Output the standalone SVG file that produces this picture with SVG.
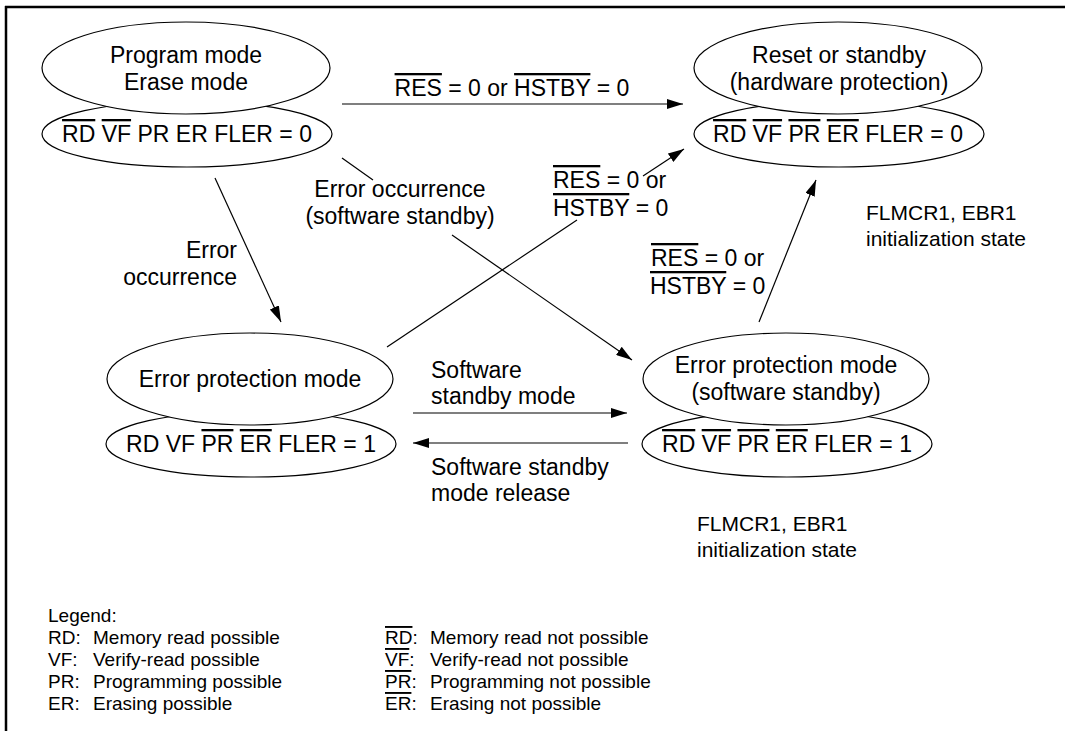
<svg xmlns="http://www.w3.org/2000/svg" width="1065" height="731" viewBox="0 0 1065 731">
<defs>
<style>
text{font-family:"Liberation Sans",Arial,sans-serif;fill:#000}
.n{font-size:23px;text-anchor:middle}
.l{font-size:23px}
.s{font-size:21px}
.g{font-size:19px}
.ol{text-decoration:overline}
.e{fill:#fff;stroke:#000;stroke-width:1.2}
.c{fill:none;stroke:#000;stroke-width:1.2}
</style>
<marker id="ah" markerUnits="userSpaceOnUse" markerWidth="16" markerHeight="10" refX="16" refY="5" orient="auto">
<path d="M0,0 L16,5 L0,10 z" fill="#000"/>
</marker>
</defs>
<rect width="1065" height="731" fill="#fff"/>
<path d="M5,7 H1065 M6,6 V731" stroke="#000" stroke-width="2.5" fill="none"/>

<g id="nodeA">
<ellipse class="e" cx="187" cy="134" rx="145" ry="33"/>
<ellipse class="e" cx="186" cy="68" rx="144" ry="46"/>
<text class="n" x="186" y="63">Program mode</text>
<text class="n" x="186" y="90">Erase mode</text>
<text class="n" x="187" y="142"><tspan class="ol">RD</tspan> <tspan class="ol">VF</tspan> PR ER FLER = 0</text>
</g>

<g id="nodeB">
<ellipse class="e" cx="839" cy="134" rx="145" ry="33"/>
<ellipse class="e" cx="838" cy="68" rx="144" ry="46"/>
<text class="n" x="839" y="63">Reset or standby</text>
<text class="n" x="839" y="90">(hardware protection)</text>
<text class="n" x="838" y="142"><tspan class="ol">RD</tspan> <tspan class="ol">VF</tspan> <tspan class="ol">PR</tspan> <tspan class="ol">ER</tspan> FLER = 0</text>
</g>

<g id="nodeC">
<ellipse class="e" cx="251" cy="444" rx="145" ry="33"/>
<ellipse class="e" cx="250" cy="379" rx="143" ry="46"/>
<text class="n" x="250" y="387">Error protection mode</text>
<text class="n" x="251" y="452">RD VF <tspan class="ol">PR</tspan> <tspan class="ol">ER</tspan> FLER = 1</text>
</g>

<g id="nodeD">
<ellipse class="e" cx="787" cy="444" rx="145" ry="33"/>
<ellipse class="e" cx="786" cy="379" rx="143" ry="46"/>
<text class="n" x="786" y="373">Error protection mode</text>
<text class="n" x="786" y="400">(software standby)</text>
<text class="n" x="787" y="452"><tspan class="ol">RD</tspan> <tspan class="ol">VF</tspan> <tspan class="ol">PR</tspan> <tspan class="ol">ER</tspan> FLER = 1</text>
</g>

<g id="connectors">
<path class="c" d="M342,104 L683,104" marker-end="url(#ah)"/>
<path class="c" d="M342,158 L373,180"/>
<path class="c" d="M452,235 L632,360" marker-end="url(#ah)"/>
<path class="c" d="M215,178 L281,322" marker-end="url(#ah)"/>
<path class="c" d="M387,347 L577,220"/>
<path class="c" d="M643,176 L684,149" marker-end="url(#ah)"/>
<path class="c" d="M759,322 L816,180" marker-end="url(#ah)"/>
<path class="c" d="M413,413 L627,413" marker-end="url(#ah)"/>
<path class="c" d="M628,443 L413,443" marker-end="url(#ah)"/>
</g>

<g id="labels">
<text class="l" x="512" y="96" text-anchor="middle"><tspan class="ol">RES</tspan> = 0 or <tspan class="ol">HSTBY</tspan> = 0</text>
<text class="l" x="400" y="197" text-anchor="middle">Error occurrence</text>
<text class="l" x="400" y="224" text-anchor="middle">(software standby)</text>
<text class="l" x="553" y="188"><tspan class="ol">RES</tspan> = 0 or</text>
<text class="l" x="553" y="216"><tspan class="ol">HSTBY</tspan> = 0</text>
<text class="l" x="651" y="266"><tspan class="ol">RES</tspan> = 0 or</text>
<text class="l" x="650" y="294"><tspan class="ol">HSTBY</tspan> = 0</text>
<text class="l" x="237" y="258" text-anchor="end">Error</text>
<text class="l" x="237" y="285" text-anchor="end">occurrence</text>
<text class="l" x="431" y="378">Software</text>
<text class="l" x="431" y="404">standby mode</text>
<text class="l" x="431" y="475">Software standby</text>
<text class="l" x="431" y="501">mode release</text>
<text class="s" x="866" y="220">FLMCR1, EBR1</text>
<text class="s" x="866" y="246">initialization state</text>
<text class="s" x="697" y="531">FLMCR1, EBR1</text>
<text class="s" x="697" y="557">initialization state</text>
</g>

<g id="legend">
<text class="g" x="48" y="622">Legend:</text>
<text class="g" x="48" y="644">RD:</text><text class="g" x="93" y="644">Memory read possible</text>
<text class="g" x="48" y="666">VF:</text><text class="g" x="93" y="666">Verify-read possible</text>
<text class="g" x="48" y="688">PR:</text><text class="g" x="93" y="688">Programming possible</text>
<text class="g" x="48" y="710">ER:</text><text class="g" x="93" y="710">Erasing possible</text>
<text class="g" x="385" y="644"><tspan class="ol">RD</tspan>:</text><text class="g" x="430" y="644">Memory read not possible</text>
<text class="g" x="385" y="666"><tspan class="ol">VF</tspan>:</text><text class="g" x="430" y="666">Verify-read not possible</text>
<text class="g" x="385" y="688"><tspan class="ol">PR</tspan>:</text><text class="g" x="430" y="688">Programming not possible</text>
<text class="g" x="385" y="710"><tspan class="ol">ER</tspan>:</text><text class="g" x="430" y="710">Erasing not possible</text>
</g>
</svg>
